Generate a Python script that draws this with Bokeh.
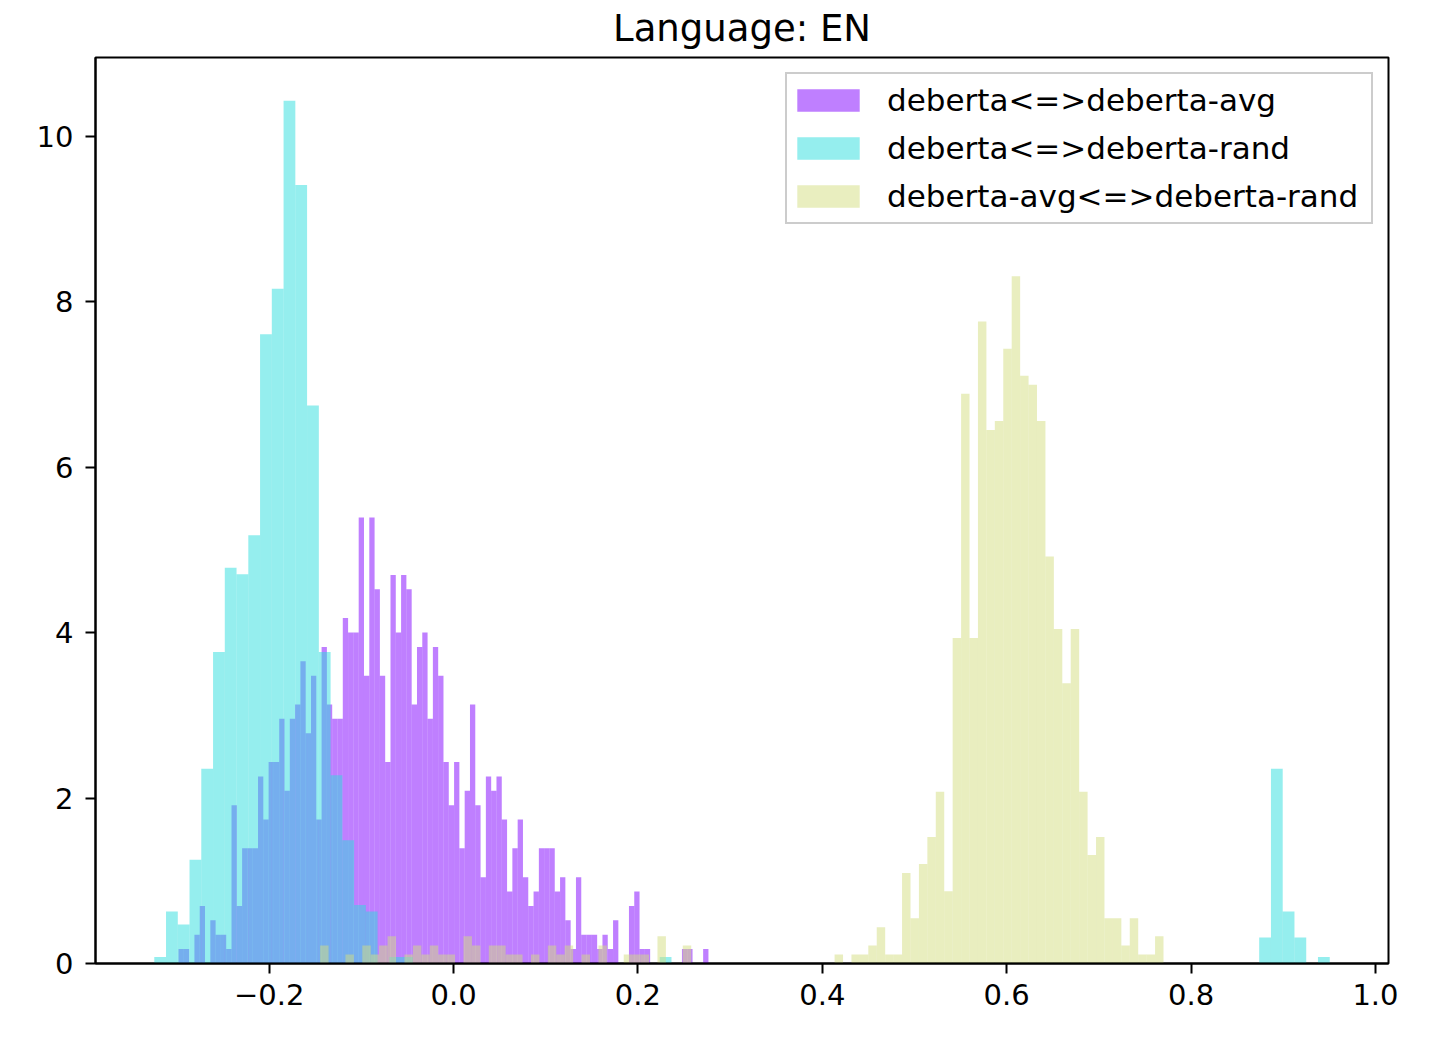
import numpy as np
from bokeh.plotting import figure
from bokeh.models import Legend, LegendItem, FixedTicker, Range1d, ColumnDataSource
from bokeh.embed import file_html
from bokeh.resources import INLINE

title_text = "Language: EN"
series_names = ["deberta<=>deberta-avg", "deberta<=>deberta-rand", "deberta-avg<=>deberta-rand"]
series_colors = ["#8000ff", "#2bdddd", "#d4dd80"]
n_samples = 1000

# histogram ranges (first and last bin edge), 100 bins each
avg_range = (-0.2983, 0.2765)
rand_range = (-0.3246, 0.9504)
avg_rand_range = (-0.1447, 0.7701)

# counts per bin (density = count / (n_samples * bin width))
avg_counts = [1, 1, 0, 2, 4, 0, 3, 2, 2, 1,
              11, 4, 8, 8, 8, 13, 10, 14, 14, 17,
              12, 17, 18, 21, 16, 20, 10, 22, 18, 17,
              17, 24, 23, 23, 31, 20, 31, 26, 20, 14,
              27, 23, 27, 26, 18, 22, 23, 17, 22, 20,
              14, 11, 14, 8, 12, 18, 11, 6, 13, 12,
              13, 10, 5, 8, 10, 6, 4, 5, 8, 8,
              8, 5, 6, 3, 1, 6, 2, 2, 2, 1,
              2, 1, 3, 0, 0, 4, 5, 1, 1, 0,
              0, 0, 0, 0, 0, 1, 1, 0, 0, 1]

rand_counts = [1, 8, 6, 16, 30, 48, 61, 60, 66, 97,
               104, 133, 120, 86, 48, 29, 19, 9, 8, 0,
               1, 1, 0, 0, 0, 0, 0, 0, 0, 0,
               0, 0, 0, 0, 0, 0, 0, 0, 0, 0,
               0, 0, 0, 1, 0, 0, 0, 0, 0, 0,
               0, 0, 0, 0, 0, 0, 0, 0, 0, 0,
               0, 0, 0, 0, 0, 0, 0, 0, 0, 0,
               0, 0, 0, 0, 0, 0, 0, 0, 0, 0,
               0, 0, 0, 0, 0, 0, 0, 0, 0, 0,
               0, 0, 0, 0, 4, 30, 8, 4, 0, 1]

avg_rand_counts = [2, 0, 0, 1, 0, 2, 1, 2, 3, 0,
                   1, 2, 1, 2, 1, 1, 0, 3, 2, 0,
                   2, 2, 1, 1, 0, 1, 0, 2, 1, 2,
                   0, 1, 0, 2, 0, 0, 1, 1, 1, 0,
                   3, 0, 0, 2, 0, 0, 0, 0, 0, 0,
                   0, 0, 0, 0, 0, 0, 0, 0, 0, 0,
                   0, 1, 0, 1, 1, 2, 4, 1, 1, 10,
                   5, 11, 14, 19, 8, 36, 63, 36, 71, 59,
                   60, 68, 76, 65, 64, 60, 45, 37, 31, 37,
                   19, 12, 14, 5, 5, 2, 5, 1, 1, 3]

x_ticks = [-0.2, 0.0, 0.2, 0.4, 0.6, 0.8, 1.0]
x_tick_labels = ["\u22120.2", "0.0", "0.2", "0.4", "0.6", "0.8", "1.0"]
y_ticks = [0, 2, 4, 6, 8, 10]
y_tick_labels = ["0", "2", "4", "6", "8", "10"]

FONT = "DejaVu Sans"
FRAME_W, FRAME_H = 1293, 906


def hist_source(rng, counts):
    counts = np.asarray(counts, dtype=float)
    edges = np.linspace(rng[0], rng[1], len(counts) + 1)
    dens = counts / (n_samples * np.diff(edges))
    return ColumnDataSource(dict(left=edges[:-1], right=edges[1:], top=dens,
                                 bottom=np.zeros_like(dens)))


sources = [hist_source(avg_range, avg_counts),
           hist_source(rand_range, rand_counts),
           hist_source(avg_rand_range, avg_rand_counts)]

# matplotlib-like autoscaling (5% margins)
xmin = min(avg_range[0], rand_range[0], avg_rand_range[0])
xmax = max(avg_range[1], rand_range[1], avg_rand_range[1])
xpad = 0.05 * (xmax - xmin)
ymax = max(max(s.data["top"]) for s in sources) * 1.05

p = figure(frame_width=FRAME_W, frame_height=FRAME_H,
           x_range=Range1d(xmin - xpad, xmax + xpad), y_range=Range1d(0, ymax),
           output_backend="svg", toolbar_location=None,
           min_border_left=95, min_border_right=30, min_border_top=57, min_border_bottom=70,
           title=title_text)

renderers = []
for src, col in zip(sources, series_colors):
    r = p.quad(left="left", right="right", top="top", bottom="bottom", source=src,
               fill_color=col, fill_alpha=0.5, line_color=None)
    renderers.append(r)

p.xgrid.visible = False
p.ygrid.visible = False
p.background_fill_color = "white"
p.border_fill_color = "white"
p.outline_line_color = "black"
p.outline_line_width = 2
p.outline_line_alpha = 1

p.xaxis.ticker = FixedTicker(ticks=x_ticks)
p.xaxis.major_label_overrides = dict(zip(x_ticks, x_tick_labels))
p.yaxis.ticker = FixedTicker(ticks=y_ticks)
p.yaxis.major_label_overrides = dict(zip(y_ticks, y_tick_labels))
for ax in (p.xaxis, p.yaxis):
    ax.axis_line_color = "black"
    ax.axis_line_width = 2
    ax.major_tick_line_color = "black"
    ax.major_tick_line_width = 2
    ax.major_tick_out = 10
    ax.major_tick_in = 0
    ax.minor_tick_out = 0
    ax.minor_tick_in = 0
    ax.major_label_text_font = FONT
    ax.major_label_text_font_size = "29px"
    ax.major_label_text_color = "black"
p.xaxis.major_label_standoff = 10
p.yaxis.major_label_standoff = 12

p.title.text_font = FONT
p.title.text_font_size = "37px"
p.title.text_font_style = "normal"
p.title.text_color = "black"
p.title.align = "center"
p.title.vertical_align = "top"
p.title.standoff = 12

legend = Legend(items=[LegendItem(label=n, renderers=[r]) for n, r in zip(series_names, renderers)],
                location="top_right", margin=15, padding=2, spacing=0,
                border_line_color="#cccccc", border_line_width=2, border_line_alpha=1,
                background_fill_color="white", background_fill_alpha=0.8,
                label_text_font=FONT, label_text_font_size="31px", label_text_color="black",
                glyph_width=78, glyph_height=28, label_standoff=20, label_height=48,
                label_width=482)
p.add_layout(legend)

open("out.html", "w").write(file_html(p, INLINE))
